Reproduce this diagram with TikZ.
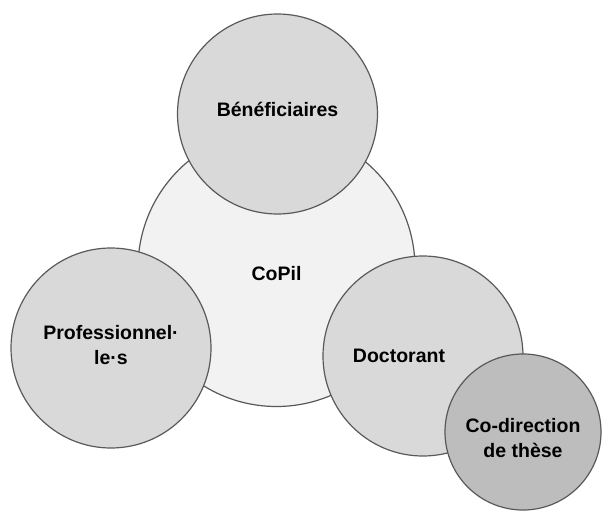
\documentclass[tikz,border=0pt]{standalone}
\usepackage{fontspec}
\setmainfont{Liberation Sans}
\usetikzlibrary{positioning}
\definecolor{rim}{HTML}{595959}
\definecolor{pale}{HTML}{F2F2F2}
\definecolor{mid}{HTML}{D9D9D9}
\definecolor{dark}{HTML}{BDBDBD}

\begin{document}
\begin{tikzpicture}[x=1pt,y=-1pt,line width=1.2pt,
 lab/.style={font=\fontsize{19.5}{25}\selectfont\bfseries,align=center},
 party/.style={draw=rim,circle,fill=mid,minimum size=200pt,inner sep=0pt},
 hub/.style={party,fill=pale,minimum size=277pt},
 sub/.style={party,fill=dark,minimum size=156pt}]
\useasboundingbox (0,0) rectangle (602,511);
\node[hub,label={[lab,yshift=-6pt]center:CoPil}] (copil) at (276.5,268) {};
\node[party,label={[lab,yshift=5pt]center:Bénéficiaires}] (benef) at (277.5,114) {};
\node[party,label={[lab,yshift=3pt]center:Professionnel·\\le·s}] (pro) at (111,348) {};
\node[party,label={[lab,xshift=-24pt]center:Doctorant}] (doc) at (423,356) {};
\node[sub,label={[lab,yshift=-6pt]center:Co-direction\\de thèse}] (codir) at (523,432) {};
\end{tikzpicture}
\end{document}
